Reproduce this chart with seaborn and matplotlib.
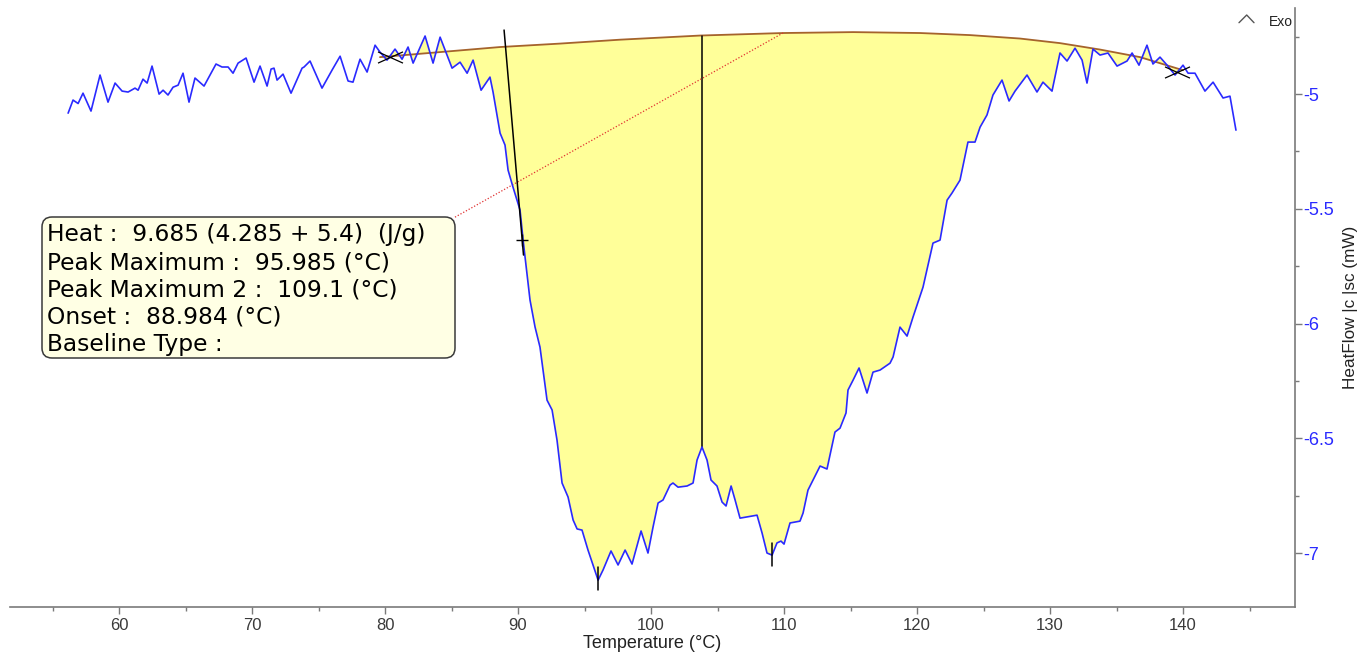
import numpy as np
import matplotlib as mpl
mpl.use('Agg')
import matplotlib.pyplot as plt
from matplotlib.patches import FancyBboxPatch
from matplotlib.lines import Line2D
from matplotlib.path import Path
from matplotlib.ticker import MultipleLocator
import seaborn as sns

# ── Data ──────────────────────────────────────────────────────────────────
temperature = [
    56.17, 56.54, 56.92, 57.29, 57.89, 58.57, 59.17, 59.70, 60.23, 60.68,
    61.20, 61.43, 61.80, 62.11, 62.48, 63.01, 63.31, 63.68, 64.06, 64.44,
    64.81, 65.26, 65.71, 66.39, 67.29, 67.74, 68.20, 68.57, 68.95, 69.55,
    70.15, 70.60, 71.13, 71.43, 71.65, 71.88, 72.33, 72.93, 73.76, 73.91,
    74.36, 75.26, 76.02, 76.62, 77.22, 77.59, 78.12, 78.65, 79.25, 79.62,
    80.15, 80.75, 81.28, 81.73, 82.11, 83.01, 83.61, 84.14, 85.04, 85.64,
    86.17, 86.62, 87.22, 87.89, 88.12, 88.65, 89.02, 89.25, 89.62, 90.15,
    90.38, 90.90, 91.28, 91.65, 92.18, 92.56, 92.93, 93.31, 93.76, 94.14,
    94.44, 94.81, 95.26, 96.02, 96.39, 96.99, 97.52, 98.05, 98.57, 99.25,
    99.77, 100.15, 100.53, 100.90, 101.43, 101.65, 102.03, 102.71, 103.16, 103.46,
    103.83, 104.21, 104.51, 104.96, 105.34, 105.64, 106.02, 106.32, 106.69, 107.59,
    107.97, 108.35, 108.72, 109.10, 109.47, 109.77, 110.00, 110.45, 111.20, 111.43,
    111.80, 112.71, 113.23, 113.83, 114.21, 114.66, 114.81, 115.19, 115.64, 116.24,
    116.69, 117.22, 117.97, 118.20, 118.72, 119.25, 119.70, 120.45, 121.20, 121.73,
    122.26, 122.63, 123.23, 123.83, 124.36, 124.74, 125.26, 125.71, 126.39, 126.92,
    127.37, 128.27, 129.02, 129.47, 130.15, 130.75, 131.28, 131.88, 132.41, 132.78,
    133.23, 133.76, 134.36, 135.04, 135.79, 136.17, 136.69, 137.29, 137.74, 138.27,
    138.80, 139.40, 140.00, 140.38, 140.90, 141.65, 142.26, 143.01, 143.53, 143.98,
]
heat_flow = [
    -5.083, -5.026, -5.041, -4.996, -5.074, -4.917, -5.035, -4.952, -4.987, -4.991,
    -4.974, -4.983, -4.935, -4.952, -4.878, -5.000, -4.983, -5.004, -4.970, -4.961,
    -4.909, -5.035, -4.930, -4.965, -4.869, -4.882, -4.882, -4.909, -4.865, -4.843,
    -4.948, -4.878, -4.965, -4.891, -4.887, -4.939, -4.913, -4.996, -4.887, -4.882,
    -4.856, -4.974, -4.895, -4.835, -4.943, -4.948, -4.848, -4.904, -4.787, -4.817,
    -4.852, -4.804, -4.848, -4.795, -4.865, -4.747, -4.865, -4.752, -4.887, -4.861,
    -4.909, -4.852, -4.983, -4.926, -4.991, -5.170, -5.222, -5.331, -5.405, -5.505,
    -5.636, -5.897, -6.015, -6.102, -6.333, -6.376, -6.507, -6.694, -6.755, -6.855,
    -6.894, -6.899, -6.986, -7.117, -7.073, -6.990, -7.051, -6.986, -7.047, -6.903,
    -6.999, -6.886, -6.781, -6.768, -6.703, -6.694, -6.712, -6.707, -6.694, -6.594,
    -6.537, -6.594, -6.681, -6.707, -6.777, -6.794, -6.707, -6.768, -6.847, -6.838,
    -6.834, -6.912, -6.999, -7.008, -6.955, -6.947, -6.960, -6.868, -6.860, -6.825,
    -6.725, -6.620, -6.633, -6.472, -6.455, -6.389, -6.289, -6.246, -6.193, -6.302,
    -6.211, -6.202, -6.172, -6.145, -6.015, -6.054, -5.971, -5.841, -5.649, -5.636,
    -5.462, -5.431, -5.375, -5.209, -5.209, -5.144, -5.091, -5.004, -4.939, -5.030,
    -4.987, -4.917, -4.991, -4.948, -4.987, -4.821, -4.856, -4.800, -4.852, -4.952,
    -4.804, -4.830, -4.821, -4.878, -4.856, -4.821, -4.874, -4.787, -4.869, -4.839,
    -4.874, -4.917, -4.874, -4.909, -4.909, -4.987, -4.948, -5.017, -5.009, -5.157,
]
base_temp = [79.62, 84.14, 88.65, 93.16, 97.67, 103.68, 109.92, 115.19,
             120.23, 123.98, 127.74, 130.75, 133.76, 136.77, 140.00]
base_flow = [-4.839, -4.817, -4.795, -4.780, -4.763, -4.745, -4.734, -4.730,
             -4.734, -4.743, -4.758, -4.778, -4.806, -4.839, -4.896]

limit_temp = [80.38, 139.55]          # integration limits (crosses)
limit_flow = [-4.839, -4.904]
onset_temp = [88.95, 90.41]           # onset tangent
onset_flow = [-4.721, -5.701]
onset_mark = [90.30, -5.636]
split_temp = 103.80                   # split between the two peaks
split_flow = [-4.745, -6.537]
peak_temp = [96.02, 109.10]
peak_low = [-7.160, -7.056]
peak_high = [-7.060, -6.955]
leader_temp = [85.26, 109.92]
leader_flow = [-5.536, -4.734]

result_lines = [
    'Heat :  9.685 (4.285 + 5.4)  (J/g)',
    'Peak Maximum :  95.985 (°C)',
    'Peak Maximum 2 :  109.1 (°C)',
    'Onset :  88.984 (°C)',
    'Baseline Type :',
]
x_ticks = [60, 70, 80, 90, 100, 110, 120, 130, 140]
y_ticks = [-7, -6.5, -6, -5.5, -5]

BLUE = '#2a2aff'
FILL = '#ffff99'
BROWN = '#a5632c'
GREY = '#7a7a7a'


def setup_style():
    sns.set_theme(style='white')
    mpl.rcParams.update({
        'font.family': ['Liberation Sans', 'DejaVu Sans'],
        'axes.unicode_minus': False,
        'figure.dpi': 100,
    })


def main():
    setup_style()
    fig = plt.figure(figsize=(13.65, 6.55), dpi=100)
    fig.patch.set_facecolor('white')
    ax = fig.add_axes([10 / 1365, 48 / 655, 1285 / 1365, 599 / 655])

    # yellow area between trace and baseline
    t = np.asarray(temperature)
    f = np.asarray(heat_flow)
    m = (t > base_temp[0]) & (t < base_temp[-1])
    px = np.concatenate([[base_temp[0]], t[m], base_temp[::-1]])
    py = np.concatenate([[base_flow[0]], f[m], base_flow[::-1]])
    ax.fill(px, py, color=FILL, lw=0, zorder=1)

    sns.lineplot(x=base_temp, y=base_flow, ax=ax, color=BROWN, lw=1.3,
                 sort=False, estimator=None, zorder=2)
    sns.lineplot(x=temperature, y=heat_flow, ax=ax, color=BLUE, lw=1.2,
                 sort=False, estimator=None, zorder=4)

    ax.plot(onset_temp, onset_flow, color='black', lw=1.1, zorder=5)
    ax.plot([split_temp, split_temp], split_flow, color='black', lw=1.1, zorder=3)
    for pt, lo, hi in zip(peak_temp, peak_low, peak_high):
        ax.plot([pt, pt], [lo, hi], color='black', lw=1.1, zorder=5)
    ax.plot(onset_mark[0], onset_mark[1], marker='+', color='black',
            markersize=9, mew=1, zorder=6)
    cross = Path([(-1, -0.45), (1, 0.45), (-1, 0.45), (1, -0.45)],
                 [Path.MOVETO, Path.LINETO, Path.MOVETO, Path.LINETO])
    ax.plot(limit_temp, limit_flow, ls='none', marker=cross, markersize=18,
            mec='black', mfc='none', mew=0.9, zorder=6)
    ax.plot(leader_temp, leader_flow, color='#e03030', lw=0.9, ls=(0, (1, 1.5)),
            zorder=3)

    # axes
    ax.set_xlim(51.8, 148.42)
    ax.set_ylim(-7.234, -4.625)
    for s in ['left', 'top']:
        ax.spines[s].set_visible(False)
    for s in ['right', 'bottom']:
        ax.spines[s].set_visible(True)
        ax.spines[s].set_color(GREY)
        ax.spines[s].set_linewidth(1.2)
    ax.yaxis.tick_right()
    ax.yaxis.set_label_position('right')
    ax.set_xticks(x_ticks)
    ax.set_xticklabels([str(v) for v in x_ticks])
    ax.set_yticks(y_ticks)
    ax.set_yticklabels([f'{v:g}' for v in y_ticks])
    ax.xaxis.set_minor_locator(MultipleLocator(5))
    ax.yaxis.set_minor_locator(MultipleLocator(0.25))
    ax.tick_params(axis='x', which='both', direction='out', bottom=True,
                   color=GREY, labelcolor='#3a3a3a', labelsize=12, pad=3)
    ax.tick_params(axis='x', which='major', length=5, width=1)
    ax.tick_params(axis='x', which='minor', length=3, width=1)
    ax.tick_params(axis='y', which='both', direction='out', right=True,
                   left=False, color=GREY, labelcolor=BLUE, labelsize=13, pad=1)
    ax.tick_params(axis='y', which='major', length=5, width=1)
    ax.tick_params(axis='y', which='minor', length=3, width=1)
    ax.set_xlabel('Temperature (°C)', fontsize=13, color='#222222', labelpad=1)
    ax.set_ylabel('HeatFlow |c |sc (mW)', fontsize=12.3, color='#222222',
                  labelpad=6)
    ax.grid(False)

    # result box
    tr = fig.dpi_scale_trans
    box = FancyBboxPatch((0.42, (655 - 358) / 100), 4.13, 1.41,
                         boxstyle='round,pad=0,rounding_size=0.1',
                         transform=tr, fc='#ffffe4', ec='#3a3a3a', lw=1.1,
                         zorder=7)
    fig.add_artist(box)
    for i, line in enumerate(result_lines):
        base = 241.5 + 27.5 * i
        fig.text(0.47, (655 - base) / 100, line, transform=tr, fontsize=16.8,
                 family=['DejaVu Sans'], va='baseline', ha='left',
                 color='black', zorder=8)

    # Exo marker
    fig.add_artist(Line2D([12.39, 12.467, 12.54], [(655 - 22.7) / 100,
                          (655 - 15) / 100, (655 - 22.7) / 100],
                          transform=tr, color='#555555', lw=1))
    fig.text(12.93, (655 - 22) / 100, 'Exo', transform=tr, fontsize=10,
             ha='right', va='center', color='#222222')

    fig.savefig('out.png', dpi=100)
    plt.close(fig)


if __name__ == '__main__':
    main()
